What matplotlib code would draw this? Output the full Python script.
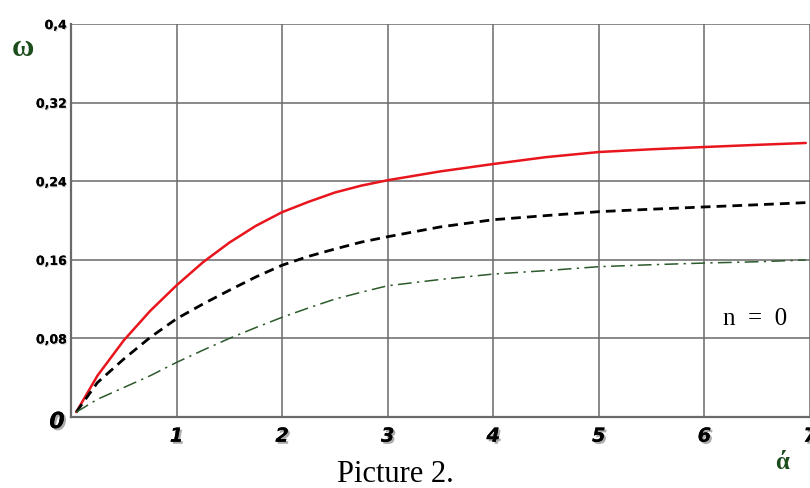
import matplotlib
matplotlib.use("Agg")
import matplotlib.pyplot as plt
import matplotlib.patheffects as pe

# alpha values along the horizontal axis
alpha = [0.05, 0.25, 0.5, 0.75, 1, 1.25, 1.5, 1.75, 2, 2.25, 2.5, 2.75, 3, 3.5, 4, 4.5,
         5, 5.5, 6, 6.5, 6.96]

# omega for the three cases
omega_red = [0.005, 0.042, 0.078, 0.108, 0.134, 0.1575, 0.1775, 0.1945, 0.2085, 0.219, 0.2285,
             0.2355, 0.241, 0.250, 0.2575, 0.2645, 0.2697, 0.2725, 0.2748, 0.277, 0.2789]
omega_black = [0.005, 0.035, 0.059, 0.081, 0.100, 0.115, 0.129, 0.1425, 0.1545, 0.1635, 0.171,
               0.178, 0.1835, 0.1935, 0.2008, 0.205, 0.209, 0.2115, 0.2138, 0.216, 0.2182]
omega_green = [0.005, 0.018, 0.030, 0.042, 0.0556, 0.068, 0.080, 0.091, 0.1015, 0.111, 0.120,
               0.127, 0.1336, 0.140, 0.1455, 0.149, 0.153, 0.155, 0.1567, 0.158, 0.1598]

xticks = [1, 2, 3, 4, 5, 6, 7]
yticks = [0.08, 0.16, 0.24, 0.32, 0.4]
ytick_labels = ["0,08", "0,16", "0,24", "0,32", "0,4"]

W, H = 810, 489
fig = plt.figure(figsize=(W / 100, H / 100), dpi=100)
ax = fig.add_axes([71 / W, (H - 418) / H, 739 / W, 393 / H])

ax.plot(alpha, omega_red, color="#e8161c", lw=1.8, solid_capstyle="round")
ax.plot(alpha, omega_black, color="black", lw=2.0, linestyle=(0, (3.5, 2.2)))
ax.plot(alpha, omega_green, color="#2b5a2b", lw=1.1, linestyle=(0, (9, 3.5, 1.5, 3.5)))

ax.set_xlim(0, 6.96)
ax.set_ylim(0, 0.4)

grid_col = "#6a6a6a"
ax.grid(True, color=grid_col, lw=1.1)
ax.set_axisbelow(True)
for s in ["top", "right"]:
    ax.spines[s].set_visible(False)
for s in ["left", "bottom"]:
    ax.spines[s].set_color(grid_col)
    ax.spines[s].set_linewidth(1.6)

shadow = [pe.withSimplePatchShadow(offset=(1.5, -1.5), shadow_rgbFace="#888888", alpha=0.7), pe.Normal()]
soft = [pe.withSimplePatchShadow(offset=(0.8, -0.8), shadow_rgbFace="#aaaaaa", alpha=0.5), pe.Normal()]

ax.set_xticks(xticks)
ax.set_xticklabels([str(v) for v in xticks], fontsize=14, fontweight="heavy",
                   fontstyle="italic", family="DejaVu Sans")
ax.set_yticks(yticks)
ax.set_yticklabels(ytick_labels, fontsize=9, fontweight="bold",
                   family=["Liberation Sans Narrow", "DejaVu Sans"])
ax.tick_params(axis="x", length=0, pad=7)
ax.tick_params(axis="y", length=0, pad=3)
for lab in ax.get_xticklabels():
    lab.set_path_effects(shadow)
for lab in ax.get_yticklabels():
    lab.set_path_effects(soft)

def px(x, y):
    return x / W, 1 - y / H

fig.text(*px(57, 423), "0", fontsize=16, fontweight="bold", fontstyle="italic",
         ha="center", va="center", path_effects=shadow)
fig.text(*px(23, 48), "ω", fontsize=22, fontweight="bold", family="Liberation Serif",
         color="#1d4d1d", ha="center", va="center")
fig.text(*px(782, 463), "ά", fontsize=18, fontweight="bold", family="Liberation Serif",
         color="#1d4d1d", ha="center", va="center")
fig.text(*px(755, 319), "n  =  0", fontsize=18, family="Liberation Serif",
         ha="center", va="center")
fig.text(*px(395, 475), "Picture 2.", fontsize=22, family="Liberation Serif",
         ha="center", va="center")

fig.savefig("out.png", dpi=100)
